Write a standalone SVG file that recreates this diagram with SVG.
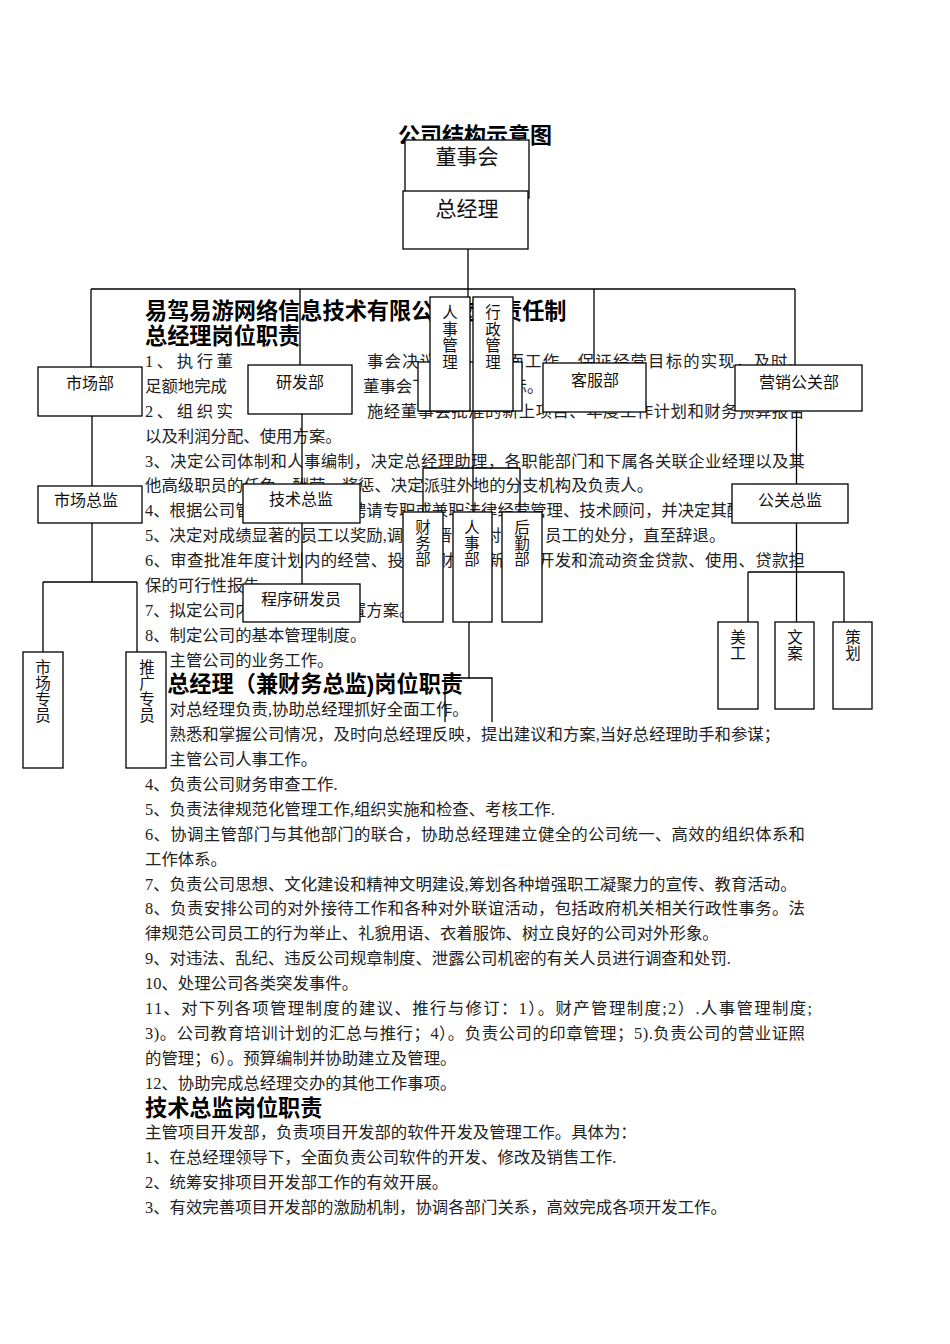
<svg xmlns="http://www.w3.org/2000/svg" width="950" height="1344" viewBox="0 0 950 1344">
<style>
.bg{fill:#fff}
.b{font-family:"Liberation Serif","Noto Sans CJK SC",serif;font-size:16.4px;fill:#222}
.h{font-family:"Liberation Sans","Noto Sans CJK SC",sans-serif;font-size:22.2px;font-weight:bold;fill:#000}
.t{font-family:"Liberation Sans","Noto Sans CJK SC",sans-serif;font-size:22px;font-weight:bold;fill:#000;text-anchor:middle}
.lbl{font-family:"Liberation Serif","Noto Sans CJK SC",serif;font-size:16px;fill:#111;text-anchor:middle}
.v{font-family:"Liberation Serif","Noto Sans CJK SC",serif;font-size:15.5px;fill:#111;text-anchor:middle}
.big{font-family:"Liberation Serif","Noto Sans CJK SC",serif;font-size:21px;fill:#111;text-anchor:middle}
.box{fill:#fff;stroke:#000;stroke-width:1.3}
.ln{fill:none;stroke:#000;stroke-width:1.3}
</style>
<rect class="bg" x="0" y="0" width="950" height="1344"/>

<text class="t" x="475" y="143">公司结构示意图</text>

<g id="document-text">
<text class="h" x="145" y="319">易驾易游网络信息技术有限公司岗位责任制</text>
<text class="h" x="145" y="344">总经理岗位职责</text>
<text class="b" x="145" y="367" textLength="88" lengthAdjust="spacing">1、执行董</text>
<text class="b" x="367" y="367" textLength="438" lengthAdjust="spacing">事会决议，主持全面工作，保证经营目标的实现，及时、</text>
<text class="b" x="145" y="392">足额地完成</text>
<text class="b" x="363" y="392">董事会下达的各项指标。</text>
<text class="b" x="145" y="417" textLength="88" lengthAdjust="spacing">2、组织实</text>
<text class="b" x="367" y="417" textLength="438" lengthAdjust="spacing">施经董事会批准的新上项目、年度工作计划和财务预算报告</text>
<text class="b" x="145" y="441.5">以及利润分配、使用方案。</text>
<text class="b" x="145" y="466.6" textLength="660" lengthAdjust="spacing">3、决定公司体制和人事编制，决定总经理助理，各职能部门和下属各关联企业经理以及其</text>
<text class="b" x="145" y="491">他高级职员的任免、酬劳、奖惩、决定派驻外地的分支机构及负责人。</text>
<text class="b" x="145" y="516">4、根据公司管理工作需要，聘请专职或兼职法律经营管理、技术顾问，并决定其酬金。</text>
<text class="b" x="145" y="541">5、决定对成绩显著的员工以奖励,调整、晋升或对违纪<tspan x="545">员工的处分，直至辞退。</tspan></text>
<text class="b" x="145" y="566" textLength="660" lengthAdjust="spacing">6、审查批准年度计划内的经营、投资、财政、新项目开发和流动资金贷款、使用、贷款担</text>
<text class="b" x="145" y="591">保的可行性报告。</text>
<text class="b" x="145" y="616">7、拟定公司内部管理机构设置方案。</text>
<text class="b" x="145" y="640.6">8、制定公司的基本管理制度。</text>
<text class="b" x="145" y="665.5">9、主管公司的业务工作。</text>
<text class="h" x="145" y="692.4">副总经理（兼财务总监)岗位职责</text>
<text class="b" x="145" y="715">1、对总经理负责,协助总经理抓好全面工作。</text>
<text class="b" x="145" y="740">2、熟悉和掌握公司情况，及时向总经理反映，提出建议和方案,当好总经理助手和参谋；</text>
<text class="b" x="145" y="765">3、主管公司人事工作。</text>
<text class="b" x="145" y="790">4、负责公司财务审查工作.</text>
<text class="b" x="145" y="815">5、负责法律规范化管理工作,组织实施和检查、考核工作.</text>
<text class="b" x="145" y="840" textLength="660" lengthAdjust="spacing">6、协调主管部门与其他部门的联合，协助总经理建立健全的公司统一、高效的组织体系和</text>
<text class="b" x="145" y="864.6">工作体系。</text>
<text class="b" x="145" y="889.5">7、负责公司思想、文化建设和精神文明建设,筹划各种增强职工凝聚力的宣传、教育活动。</text>
<text class="b" x="145" y="914.4" textLength="660" lengthAdjust="spacing">8、负责安排公司的对外接待工作和各种对外联谊活动，包括政府机关相关行政性事务。法</text>
<text class="b" x="145" y="939.3">律规范公司员工的行为举止、礼貌用语、衣着服饰、树立良好的公司对外形象。</text>
<text class="b" x="145" y="964">9、对违法、乱纪、违反公司规章制度、泄露公司机密的有关人员进行调查和处罚.</text>
<text class="b" x="145" y="989">10、处理公司各类突发事件。</text>
<text class="b" x="145" y="1014" textLength="667" lengthAdjust="spacing">11、对下列各项管理制度的建议、推行与修订：1）。财产管理制度;2）.人事管理制度;</text>
<text class="b" x="145" y="1039" textLength="660" lengthAdjust="spacing">3)。公司教育培训计划的汇总与推行；4）。负责公司的印章管理；5).负责公司的营业证照</text>
<text class="b" x="145" y="1063.7">的管理；6）。预算编制并协助建立及管理。</text>
<text class="b" x="145" y="1088.6">12、协助完成总经理交办的其他工作事项。</text>
<text class="h" x="145" y="1115.5">技术总监岗位职责</text>
<text class="b" x="145" y="1138.4">主管项目开发部，负责项目开发部的软件开发及管理工作。具体为：</text>
<text class="b" x="145" y="1163.3">1、在总经理领导下，全面负责公司软件的开发、修改及销售工作.</text>
<text class="b" x="145" y="1188.2">2、统筹安排项目开发部工作的有效开展。</text>
<text class="b" x="145" y="1213">3、有效完善项目开发部的激励机制，协调各部门关系，高效完成各项开发工作。</text>
</g>

<g id="connectors" class="ln">
<path d="M468,249V289"/>
<path d="M91,289H795"/>
<path d="M91,289V367"/>
<path d="M300,289V365"/>
<path d="M594,289V363"/>
<path d="M795,289V365"/>
<path d="M468,289V297"/>
<path d="M92,416V486"/>
<path d="M92,523V582"/>
<path d="M43,582H137"/>
<path d="M43,582V652"/>
<path d="M137,582V652"/>
<path d="M302,414V484"/>
<path d="M302,523V584"/>
<path d="M796.5,411V484"/>
<path d="M796.5,523V622"/>
<path d="M748,572H844"/>
<path d="M748,572V622"/>
<path d="M844,572V622"/>
<path d="M473,411V512"/>
<path d="M423,468H520"/>
<path d="M423,468V512"/>
<path d="M520,468V512"/>
<path d="M469,622V678"/>
<path d="M445,722V678H492V722"/>
</g>

<g id="node-dongshihui"><rect class="box" x="405" y="140" width="124" height="58"/><text class="big" x="467" y="164">董事会</text></g>
<g id="node-zongjingli"><rect class="box" x="403" y="191" width="125" height="58"/><text class="big" x="467" y="216">总经理</text></g>
<g id="node-blank"><rect class="box" x="418" y="362" width="104" height="49"/></g>
<g id="node-renshiguanli"><rect class="box" x="430" y="297" width="40" height="114"/>
<text class="v" x="450" y="318">人</text><text class="v" x="450" y="334.5">事</text><text class="v" x="450" y="351">管</text><text class="v" x="450" y="367.5">理</text></g>
<g id="node-xingzhengguanli"><rect class="box" x="473" y="297" width="40" height="114"/>
<text class="v" x="493" y="318">行</text><text class="v" x="493" y="334.5">政</text><text class="v" x="493" y="351">管</text><text class="v" x="493" y="367.5">理</text></g>
<g id="node-shichangbu"><rect class="box" x="38" y="367" width="104" height="49"/><text class="lbl" x="90" y="389">市场部</text></g>
<g id="node-yanfabu"><rect class="box" x="248" y="365" width="104" height="49"/><text class="lbl" x="300" y="388">研发部</text></g>
<g id="node-kefubu"><rect class="box" x="543" y="363" width="103" height="49"/><text class="lbl" x="595" y="386">客服部</text></g>
<g id="node-yingxiaogongguanbu"><rect class="box" x="735" y="365" width="127" height="46"/><text class="lbl" x="799" y="388">营销公关部</text></g>
<g id="node-shichangzongjian"><rect class="box" x="38" y="486" width="104" height="37"/><text class="lbl" x="86" y="506">市场总监</text></g>
<g id="node-jishuzongjian"><rect class="box" x="243" y="484" width="117" height="39"/><text class="lbl" x="301" y="505">技术总监</text></g>
<g id="node-chengxuyanfayuan"><rect class="box" x="243" y="584" width="117" height="38"/><text class="lbl" x="301" y="605">程序研发员</text></g>
<g id="node-gongguanzongjian"><rect class="box" x="732" y="484" width="116" height="39"/><text class="lbl" x="790" y="506">公关总监</text></g>
<g id="node-caiwubu"><rect class="box" x="403" y="512" width="40" height="110"/>
<text class="v" x="423" y="533">财</text><text class="v" x="423" y="549">务</text><text class="v" x="423" y="565">部</text></g>
<g id="node-renshibu"><rect class="box" x="453" y="512" width="39" height="110"/>
<text class="v" x="472" y="533">人</text><text class="v" x="472" y="549">事</text><text class="v" x="472" y="565">部</text></g>
<g id="node-houqinbu"><rect class="box" x="502" y="512" width="40" height="110"/>
<text class="v" x="522" y="533">后</text><text class="v" x="522" y="549">勤</text><text class="v" x="522" y="565">部</text></g>
<g id="node-shichangzhuanyuan"><rect class="box" x="23" y="652" width="40" height="116"/>
<text class="v" x="43" y="673">市</text><text class="v" x="43" y="689">场</text><text class="v" x="43" y="705">专</text><text class="v" x="43" y="721">员</text></g>
<g id="node-tuiguangzhuanyuan"><rect class="box" x="126" y="652" width="40" height="116"/>
<text class="v" x="147" y="673">推</text><text class="v" x="147" y="689">广</text><text class="v" x="147" y="705">专</text><text class="v" x="147" y="721">员</text></g>
<g id="node-meigong"><rect class="box" x="718" y="622" width="40" height="87"/>
<text class="v" x="738" y="643">美</text><text class="v" x="738" y="659">工</text></g>
<g id="node-wenan"><rect class="box" x="775" y="622" width="39" height="87"/>
<text class="v" x="795" y="643">文</text><text class="v" x="795" y="659">案</text></g>
<g id="node-cehua"><rect class="box" x="833" y="622" width="39" height="87"/>
<text class="v" x="853" y="643">策</text><text class="v" x="853" y="659">划</text></g>
</svg>
